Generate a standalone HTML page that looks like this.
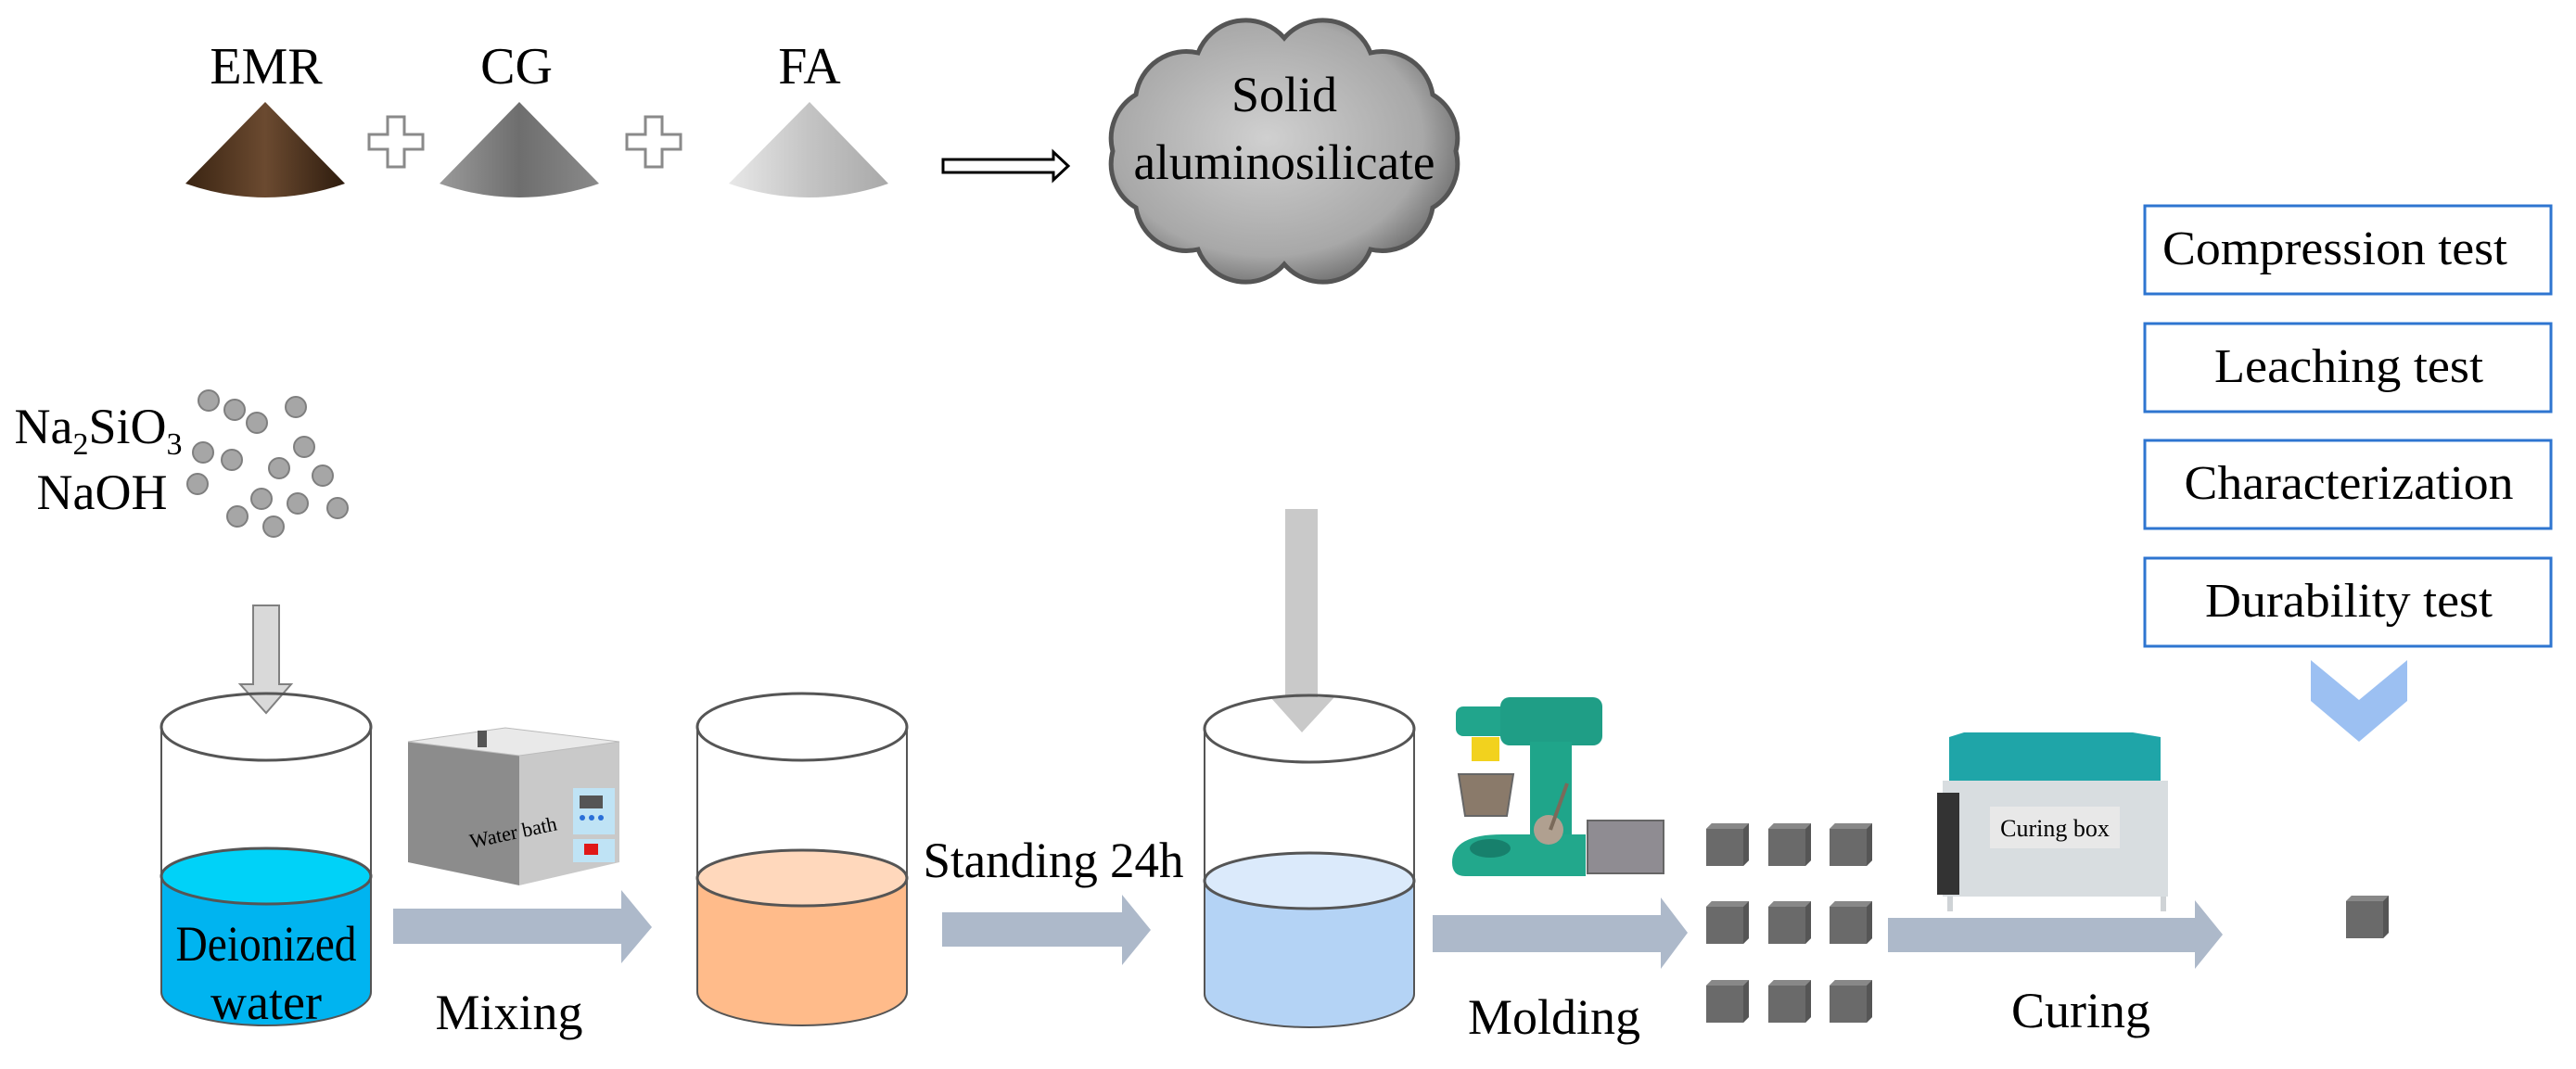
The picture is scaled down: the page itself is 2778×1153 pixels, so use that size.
<!DOCTYPE html>
<html><head><meta charset="utf-8"><style>
html,body{margin:0;padding:0;background:#fff;}
svg{display:block;}
text{font-family:"Liberation Serif",serif;fill:#000;}
</style></head><body>
<svg width="2778" height="1153" viewBox="0 0 2778 1153" xmlns="http://www.w3.org/2000/svg">
<defs>
<linearGradient id="cEMR" x1="0" x2="1"><stop offset="0" stop-color="#3a2412"/><stop offset="0.5" stop-color="#6b4a30"/><stop offset="1" stop-color="#2e1c0e"/></linearGradient>
<linearGradient id="cCG" x1="0" x2="1"><stop offset="0" stop-color="#9a9a9a"/><stop offset="0.5" stop-color="#6e6e6e"/><stop offset="1" stop-color="#8a8a8a"/></linearGradient>
<linearGradient id="cFA" x1="0" x2="1"><stop offset="0" stop-color="#e8e8e8"/><stop offset="0.5" stop-color="#c4c4c4"/><stop offset="1" stop-color="#a9a9a9"/></linearGradient>
<radialGradient id="cloud" cx="0.45" cy="0.45" r="0.6"><stop offset="0" stop-color="#d0d0d0"/><stop offset="0.75" stop-color="#a8a8a8"/><stop offset="1" stop-color="#6a6a6a"/></radialGradient>
<g id="cube"><path d="M0 6 L6 0 H46 V40 L40 46 H0 Z" fill="#6a6a6a"/><path d="M40 6 L46 0 V40 L40 46 Z" fill="#555"/><path d="M0 6 L6 0 H46 L40 6 Z" fill="#888"/></g>
</defs>

<text x="287" y="90" font-size="56" text-anchor="middle">EMR</text>
<text x="557" y="90" font-size="56" text-anchor="middle">CG</text>
<text x="873" y="90" font-size="56" text-anchor="middle">FA</text>

<path d="M286 110 L372 198 Q286 228 200 198 Z" fill="url(#cEMR)"/>
<path d="M560 110 L646 198 Q560 228 474 198 Z" fill="url(#cCG)"/>
<path d="M873 110 L958 198 Q873 228 786 198 Z" fill="url(#cFA)"/>

<path d="M418 126 h18 v19 h20 v16 h-20 v19 h-18 v-19 h-20 v-16 h20 Z" fill="#fff" stroke="#8a8a8a" stroke-width="3"/>
<path d="M696 126 h18 v19 h20 v16 h-20 v19 h-18 v-19 h-20 v-16 h20 Z" fill="#fff" stroke="#8a8a8a" stroke-width="3"/>

<path d="M1017 172 H1136 V164 L1152 179 L1136 194 V186 H1017 Z" fill="#fff" stroke="#000" stroke-width="3"/>

<path d="M1570 163 A55 55 0 0 1 1545 224 A55 55 0 0 1 1478 269 A55 55 0 0 1 1385 285 A55 55 0 0 1 1292 269 A55 55 0 0 1 1225 224 A55 55 0 0 1 1200 163 A55 55 0 0 1 1225 102 A55 55 0 0 1 1292 57 A55 55 0 0 1 1385 41 A55 55 0 0 1 1478 57 A55 55 0 0 1 1545 102 A55 55 0 0 1 1570 163 Z" fill="url(#cloud)" stroke="#555" stroke-width="5"/>
<text x="1385" y="120" font-size="54" text-anchor="middle">Solid</text>
<text x="1385" y="193" font-size="54" text-anchor="middle" textLength="325" lengthAdjust="spacingAndGlyphs">aluminosilicate</text>

<text x="106" y="478" font-size="54" text-anchor="middle">Na<tspan font-size="34" dy="12">2</tspan><tspan dy="-12">SiO</tspan><tspan font-size="34" dy="12">3</tspan></text>
<text x="110" y="549" font-size="54" text-anchor="middle">NaOH</text>
<g fill="#a6a6a6" stroke="#7f7f7f" stroke-width="2">
<circle cx="225" cy="432" r="11"/><circle cx="253" cy="442" r="11"/><circle cx="277" cy="456" r="11"/><circle cx="319" cy="439" r="11"/>
<circle cx="219" cy="488" r="11"/><circle cx="250" cy="496" r="11"/><circle cx="328" cy="482" r="11"/><circle cx="301" cy="505" r="11"/>
<circle cx="348" cy="513" r="11"/><circle cx="213" cy="522" r="11"/><circle cx="282" cy="538" r="11"/><circle cx="321" cy="543" r="11"/>
<circle cx="364" cy="548" r="11"/><circle cx="256" cy="557" r="11"/><circle cx="295" cy="568" r="11"/>
</g>

<g fill="#fff" stroke="#2e75d0" stroke-width="3">
<rect x="2313" y="222" width="438" height="95"/>
<rect x="2313" y="349" width="438" height="95"/>
<rect x="2313" y="475" width="438" height="95"/>
<rect x="2313" y="602" width="438" height="95"/>
</g>
<text x="2332" y="285" font-size="52" textLength="372" lengthAdjust="spacingAndGlyphs">Compression test</text>
<text x="2533" y="412" font-size="52" text-anchor="middle" textLength="290" lengthAdjust="spacingAndGlyphs">Leaching test</text>
<text x="2533" y="538" font-size="52" text-anchor="middle" textLength="355" lengthAdjust="spacingAndGlyphs">Characterization</text>
<text x="2533" y="665" font-size="52" text-anchor="middle" textLength="310" lengthAdjust="spacingAndGlyphs">Durability test</text>
<path d="M2492 712 L2544 755 L2596 712 V756 L2544 800 L2492 756 Z" fill="#9cc0f2"/>

<path d="M273 653 H301 V738 H314 L287 769 L259 738 H273 Z" fill="#d9d9d9" stroke="#808080" stroke-width="2"/>
<path d="M1386 549 H1421 V752 H1439 L1404 790 L1370 752 H1386 Z" fill="#c9c9c9"/>

<path d="M174 945 V1070 A113 36 0 0 0 400 1070 V945 Z" fill="#00b4f0"/>
<ellipse cx="287" cy="945" rx="113" ry="30" fill="#00d2f8" stroke="#555" stroke-width="3"/>
<path d="M174 784 V1070 A113 36 0 0 0 400 1070 V784" fill="none" stroke="#555" stroke-width="2"/>
<ellipse cx="287" cy="784" rx="113" ry="36" fill="none" stroke="#555" stroke-width="3"/>
<text x="287" y="1036" font-size="54" text-anchor="middle" textLength="195" lengthAdjust="spacingAndGlyphs">Deionized</text>
<text x="287" y="1099" font-size="54" text-anchor="middle">water</text>

<path d="M752 947 V1070 A113 36 0 0 0 978 1070 V947 Z" fill="#ffbb8a"/>
<ellipse cx="865" cy="947" rx="113" ry="30" fill="#ffd8bc" stroke="#555" stroke-width="3"/>
<path d="M752 784 V1070 A113 36 0 0 0 978 1070 V784" fill="none" stroke="#555" stroke-width="2"/>
<ellipse cx="865" cy="784" rx="113" ry="36" fill="none" stroke="#555" stroke-width="3"/>

<path d="M1299 950 V1072 A113 36 0 0 0 1525 1072 V950 Z" fill="#b4d3f5"/>
<ellipse cx="1412" cy="950" rx="113" ry="30" fill="#dbeafb" stroke="#555" stroke-width="3"/>
<path d="M1299 786 V1072 A113 36 0 0 0 1525 1072 V786" fill="none" stroke="#555" stroke-width="2"/>
<ellipse cx="1412" cy="786" rx="113" ry="36" fill="none" stroke="#555" stroke-width="3"/>

<path d="M440 800 L560 815 L560 955 L440 930 Z" fill="#8c8c8c"/>
<path d="M560 815 L668 800 L668 930 L560 955 Z" fill="#c9c9c9"/>
<path d="M440 800 L545 785 L668 800 L560 815 Z" fill="#e9e9e9" stroke="#bbb" stroke-width="1"/>
<rect x="515" y="788" width="10" height="18" fill="#555"/>
<rect x="618" y="850" width="45" height="50" fill="#bfe3f5"/>
<rect x="625" y="858" width="25" height="14" fill="#555"/>
<circle cx="628" cy="882" r="3" fill="#2a6fd8"/><circle cx="638" cy="882" r="3" fill="#2a6fd8"/><circle cx="648" cy="882" r="3" fill="#2a6fd8"/>
<rect x="618" y="905" width="45" height="25" fill="#bfe3f5"/>
<rect x="630" y="910" width="15" height="12" fill="#e01818"/>
<text x="555" y="905" font-size="22" text-anchor="middle" transform="rotate(-12 555 905)">Water bath</text>

<g fill="#adb9ca">
<path d="M424 980 H670 V960 L703 1000 L670 1039 V1018 H424 Z"/>
<path d="M1016 984 H1210 V965 L1241 1003 L1210 1041 V1021 H1016 Z"/>
<path d="M1545 987 H1791 V968 L1820 1006 L1791 1045 V1027 H1545 Z"/>
<path d="M2036 990 H2367 V971 L2397 1008 L2367 1045 V1027 H2036 Z"/>
</g>
<text x="549" y="1110" font-size="54" text-anchor="middle">Mixing</text>
<text x="1136" y="946" font-size="54" text-anchor="middle" textLength="281" lengthAdjust="spacingAndGlyphs">Standing 24h</text>
<text x="1676" y="1115" font-size="54" text-anchor="middle">Molding</text>
<text x="2244" y="1108" font-size="54" text-anchor="middle">Curing</text>

<g>
<rect x="1570" y="762" width="60" height="32" rx="8" fill="#21a58c"/>
<rect x="1618" y="752" width="110" height="52" rx="10" fill="#1f9e86"/>
<rect x="1587" y="795" width="30" height="26" fill="#f2d21e"/>
<path d="M1573 835 H1632 L1625 880 H1580 Z" fill="#8a7a6a" stroke="#666" stroke-width="2"/>
<rect x="1650" y="800" width="45" height="140" fill="#1fa58a"/>
<path d="M1566 930 Q1566 900 1620 900 H1710 V945 H1580 Q1566 945 1566 930 Z" fill="#22a88c"/>
<ellipse cx="1607" cy="915" rx="22" ry="10" fill="#17806c"/>
<circle cx="1670" cy="895" r="16" fill="#b0a090"/>
<line x1="1672" y1="895" x2="1690" y2="845" stroke="#7a6a5a" stroke-width="4"/>
<rect x="1712" y="885" width="82" height="57" fill="#8f8c92" stroke="#666" stroke-width="2"/>
</g>

<use href="#cube" x="1840" y="888"/><use href="#cube" x="1907" y="888"/><use href="#cube" x="1973" y="888"/>
<use href="#cube" x="1840" y="972"/><use href="#cube" x="1907" y="972"/><use href="#cube" x="1973" y="972"/>
<use href="#cube" x="1840" y="1057"/><use href="#cube" x="1907" y="1057"/><use href="#cube" x="1973" y="1057"/>
<use href="#cube" x="2530" y="966"/>

<path d="M2102 795 L2118 790 H2300 L2330 795 V842 H2102 Z" fill="#1fa5a8"/>
<rect x="2095" y="842" width="243" height="125" fill="#d8dde0"/>
<rect x="2100" y="967" width="6" height="16" fill="#cfd3d6"/><rect x="2330" y="967" width="6" height="16" fill="#cfd3d6"/>
<rect x="2089" y="855" width="24" height="110" fill="#333"/>
<rect x="2146" y="870" width="140" height="45" fill="#e8e8e8"/>
<text x="2216" y="902" font-size="26" text-anchor="middle">Curing box</text>
</svg>
</body></html>
